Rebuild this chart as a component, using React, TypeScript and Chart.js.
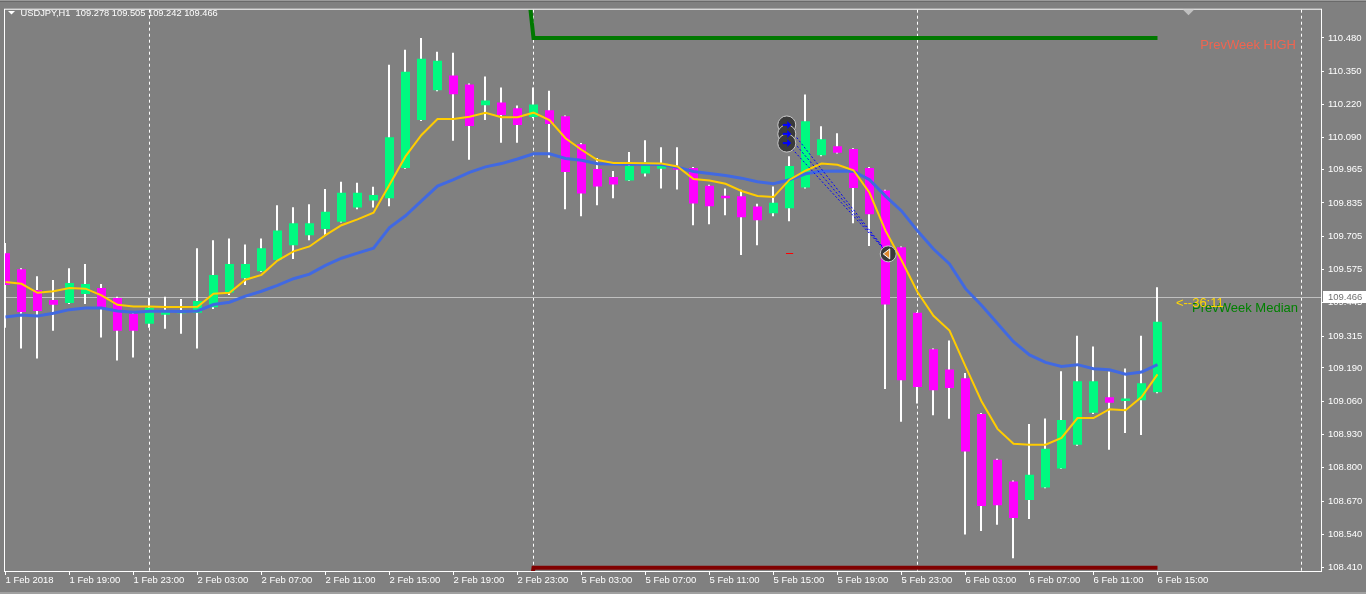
import React, { useEffect, useRef } from "react";
import { Chart, registerables } from "chart.js";

Chart.register(...registerables);

// ---------- DATA ----------
const titleText = "USDJPY,H1  109.278 109.505 109.242 109.466";

const openP = [
  109.638, 109.576, 109.495, 109.456, 109.444, 109.479, 109.503, 109.464, 109.402, 109.363,
  109.398, 109.404, 109.406, 109.427, 109.485, 109.541, 109.568, 109.612, 109.670, 109.709,
  109.733, 109.762, 109.817, 109.845, 109.853, 109.972, 110.159, 110.276, 110.333, 110.298,
  110.217, 110.228, 110.205, 110.171, 110.197, 110.174, 110.065, 109.968, 109.937, 109.923,
  109.950, 109.969, 109.975, 109.972, 109.902, 109.863, 109.861, 109.821, 109.795, 109.814,
  109.895, 110.022, 110.057, 110.046, 109.972, 109.884, 109.662, 109.406, 109.263, 109.184,
  109.150, 109.010, 108.831, 108.746, 108.674, 108.723, 108.797, 108.890, 109.015, 109.076,
  109.061, 109.064, 109.095,
];
const highP = [
  109.679, 109.580, 109.549, 109.534, 109.580, 109.596, 109.518, 109.468, 109.406, 109.464,
  109.468, 109.460, 109.658, 109.689, 109.696, 109.673, 109.696, 109.826, 109.818, 109.830,
  109.890, 109.918, 109.914, 109.898, 110.375, 110.434, 110.480, 110.426, 110.422, 110.302,
  110.329, 110.286, 110.216, 110.286, 110.274, 110.177, 110.069, 110.011, 109.960, 110.034,
  110.080, 110.053, 110.053, 109.976, 109.906, 109.892, 109.887, 109.832, 109.899, 110.018,
  110.259, 110.135, 110.108, 110.049, 109.976, 109.887, 109.665, 109.409, 109.266, 109.297,
  109.170, 109.014, 108.835, 108.750, 108.971, 108.993, 109.177, 109.316, 109.274, 109.176,
  109.188, 109.316, 109.506,
];
const lowP = [
  109.347, 109.266, 109.227, 109.336, 109.440, 109.440, 109.309, 109.219, 109.231, 109.347,
  109.343, 109.324, 109.266, 109.421, 109.475, 109.514, 109.565, 109.611, 109.616, 109.689,
  109.709, 109.759, 109.810, 109.817, 109.822, 109.969, 110.155, 110.272, 110.078, 110.004,
  110.159, 110.070, 110.070, 110.166, 110.012, 109.810, 109.783, 109.826, 109.853, 109.921,
  109.938, 109.892, 109.888, 109.748, 109.752, 109.787, 109.632, 109.670, 109.783, 109.764,
  109.892, 110.018, 110.028, 109.756, 109.667, 109.108, 108.980, 109.051, 109.005, 108.992,
  108.539, 108.553, 108.577, 108.446, 108.600, 108.720, 108.795, 108.886, 109.010, 108.870,
  108.936, 108.928, 109.091,
];
const closeP = [
  109.514, 109.409, 109.413, 109.437, 109.522, 109.518, 109.421, 109.336, 109.336, 109.425,
  109.409, 109.412, 109.452, 109.553, 109.596, 109.596, 109.658, 109.727, 109.756, 109.756,
  109.801, 109.875, 109.875, 109.866, 110.092, 110.348, 110.399, 110.391, 110.260, 110.136,
  110.236, 110.179, 110.140, 110.220, 110.144, 109.956, 109.872, 109.899, 109.907, 109.980,
  109.994, 109.980, 109.965, 109.833, 109.822, 109.853, 109.779, 109.767, 109.836, 109.980,
  110.154, 110.084, 110.031, 109.894, 109.791, 109.438, 109.142, 109.116, 109.103, 109.112,
  108.864, 108.650, 108.653, 108.604, 108.773, 108.874, 108.987, 109.138, 109.138, 109.054,
  109.071, 109.130, 109.371,
];
const maFast = [
  109.526, 109.519, 109.484, 109.490, 109.503, 109.500, 109.474, 109.437, 109.430, 109.430,
  109.428, 109.428, 109.429, 109.480, 109.484, 109.535, 109.554, 109.610, 109.646, 109.665,
  109.709, 109.748, 109.771, 109.797, 109.906, 110.017, 110.101, 110.163, 110.163, 110.172,
  110.188, 110.170, 110.170, 110.188, 110.159, 110.088, 110.043, 110.003, 109.991, 109.991,
  109.990, 109.989, 109.978, 109.929, 109.923, 109.910, 109.882, 109.862, 109.858, 109.926,
  109.961, 109.989, 109.984, 109.963, 109.875, 109.727, 109.611, 109.487, 109.394, 109.336,
  109.196, 109.060, 108.952, 108.894, 108.890, 108.890, 108.917, 108.994, 108.994, 109.029,
  109.025, 109.076, 109.165,
];
const maSlow = [
  109.389, 109.397, 109.393, 109.404, 109.418, 109.424, 109.424, 109.413, 109.408, 109.412,
  109.412, 109.411, 109.413, 109.438, 109.447, 109.471, 109.490, 109.513, 109.539, 109.557,
  109.591, 109.619, 109.639, 109.658, 109.739, 109.785, 109.843, 109.901, 109.926, 109.955,
  109.976, 109.989, 110.007, 110.027, 110.027, 110.009, 110.002, 109.988, 109.987, 109.986,
  109.986, 109.985, 109.975, 109.958, 109.950, 109.942, 109.932, 109.918, 109.910, 109.926,
  109.949, 109.959, 109.960, 109.959, 109.926, 109.862, 109.804, 109.726, 109.655, 109.597,
  109.500, 109.435, 109.364, 109.293, 109.241, 109.212, 109.196, 109.203, 109.187, 109.183,
  109.166, 109.174, 109.203,
];

const xTickIndex = [0, 4, 8, 12, 16, 20, 24, 28, 32, 36, 40, 44, 48, 52, 56, 60, 64, 68, 72];
const xTickLabels = [
  "1 Feb 2018", "1 Feb 19:00", "1 Feb 23:00", "2 Feb 03:00", "2 Feb 07:00", "2 Feb 11:00",
  "2 Feb 15:00", "2 Feb 19:00", "2 Feb 23:00", "5 Feb 03:00", "5 Feb 07:00", "5 Feb 11:00",
  "5 Feb 15:00", "5 Feb 19:00", "5 Feb 23:00", "6 Feb 03:00", "6 Feb 07:00", "6 Feb 11:00",
  "6 Feb 15:00",
];
const yTickLabels = [
  "110.480", "110.350", "110.220", "110.090", "109.965", "109.835", "109.705", "109.575",
  "109.445", "109.315", "109.190", "109.060", "108.930", "108.800", "108.670", "108.540", "108.410",
];
const daySeparatorIndex = [9, 33, 57, 81];

const prevWeekIndex = [32, 33, 72];
const prevWeekHigh = [111.06, 110.48, 110.48];
const prevWeekLow = [107.95, 108.409, 108.409];
const prevWeekMedian = 109.445;
const currentPrice = 109.466;
const currentPriceLabel = "109.466";
const timerLabel = "<--36:11";

const tradeEntryIndex = 48.83;
const tradeEntryPrices = [110.14, 110.105, 110.069];
const tradeExitIndex = 55.17;
const tradeExitPrice = 109.636;

// ---------- STYLE ----------
const FONT = "'Liberation Sans', Arial, sans-serif";
const BG = "#808080";
const BULL = "#00FA80";
const BEAR = "#FF00FF";

const X_MIN = -0.03125;
const X_MAX = X_MIN + 1316 / 16;
const Y_MIN = 108.3964;
const Y_MAX = 110.5905;

const overlay = {
  id: "mt4overlay",
  beforeDraw(chart: any) {
    const ctx = chart.ctx;
    ctx.save();
    ctx.fillStyle = BG;
    ctx.fillRect(0, 0, chart.width, chart.height);
    ctx.restore();
  },
  beforeDatasetsDraw(chart: any) {
    const { ctx, chartArea: a, scales } = chart;
    const xs = scales.x;
    const ys = scales.y;
    ctx.save();
    ctx.strokeStyle = "#FFFFFF";
    ctx.lineWidth = 1;
    ctx.setLineDash([3, 3]);
    for (const d of daySeparatorIndex) {
      const px = Math.floor(xs.getPixelForValue(d)) + 0.5;
      ctx.beginPath();
      ctx.moveTo(px, a.top);
      ctx.lineTo(px, a.bottom);
      ctx.stroke();
    }
    ctx.setLineDash([]);
    const py = Math.floor(ys.getPixelForValue(currentPrice)) + 0.5;
    ctx.strokeStyle = "#C0C0C0";
    ctx.beginPath();
    ctx.moveTo(a.left, py);
    ctx.lineTo(a.right, py);
    ctx.stroke();
    ctx.restore();
  },
  afterDatasetsDraw(chart: any) {
    const { ctx, chartArea: a, scales } = chart;
    const xs = scales.x;
    const ys = scales.y;
    ctx.save();
    ctx.beginPath();
    ctx.rect(a.left, a.top, a.right - a.left, a.bottom - a.top);
    ctx.clip();

    const ex = xs.getPixelForValue(tradeEntryIndex);
    const xx = xs.getPixelForValue(tradeExitIndex);
    const xy = ys.getPixelForValue(tradeExitPrice);
    ctx.strokeStyle = "#0000FF";
    ctx.lineWidth = 1;
    ctx.setLineDash([2, 2]);
    for (const p of tradeEntryPrices) {
      const ey = ys.getPixelForValue(p);
      ctx.beginPath();
      ctx.moveTo(ex, ey);
      ctx.lineTo(xx, xy);
      ctx.stroke();
    }
    ctx.setLineDash([]);
    ctx.strokeStyle = "#FF0000";
    ctx.beginPath();
    ctx.moveTo(xs.getPixelForValue(tradeEntryIndex - 0.05), Math.floor(xy) + 0.5);
    ctx.lineTo(xs.getPixelForValue(tradeEntryIndex + 0.4), Math.floor(xy) + 0.5);
    ctx.stroke();
    for (const p of tradeEntryPrices) {
      const ey = ys.getPixelForValue(p);
      ctx.beginPath();
      ctx.arc(ex, ey, 9, 0, Math.PI * 2);
      ctx.fillStyle = "#3A3A3A";
      ctx.fill();
      ctx.strokeStyle = "#C8C8C8";
      ctx.stroke();
    }
    for (const p of tradeEntryPrices) {
      const ey = ys.getPixelForValue(p);
      ctx.fillStyle = "#0000FF";
      ctx.fillRect(ex - 4, ey - 1, 5, 2);
      ctx.beginPath();
      ctx.moveTo(ex + 0.5, ey - 4);
      ctx.lineTo(ex + 4.5, ey);
      ctx.lineTo(ex + 0.5, ey + 4);
      ctx.closePath();
      ctx.fill();
    }
    ctx.beginPath();
    ctx.arc(xx, xy, 8, 0, Math.PI * 2);
    ctx.fillStyle = "#3A3A3A";
    ctx.fill();
    ctx.strokeStyle = "#C8C8C8";
    ctx.stroke();
    ctx.beginPath();
    ctx.moveTo(xx - 5, xy);
    ctx.lineTo(xx + 1.5, xy - 5);
    ctx.lineTo(xx + 1.5, xy + 5);
    ctx.closePath();
    ctx.fillStyle = "#E08A2E";
    ctx.fill();
    ctx.strokeStyle = "#FFFFFF";
    ctx.stroke();

    ctx.textBaseline = "top";
    ctx.textAlign = "right";
    ctx.font = `13px ${FONT}`;
    ctx.fillStyle = "#F06450";
    ctx.fillText("PrevWeek HIGH", 1296, ys.getPixelForValue(prevWeekHigh[1]) + 0.5);
    ctx.fillStyle = "#008000";
    ctx.fillText("PrevWeek Median", 1298, ys.getPixelForValue(prevWeekMedian) - 0.5);
    ctx.textAlign = "left";
    ctx.textBaseline = "middle";
    ctx.font = `13px ${FONT}`;
    ctx.fillStyle = "#FFD700";
    ctx.fillText(timerLabel, xs.getPixelForValue(73.15), ys.getPixelForValue(currentPrice) + 6.5);
    ctx.restore();
  },
  afterDraw(chart: any) {
    const { ctx, chartArea: a, scales } = chart;
    const ys = scales.y;
    ctx.save();
    ctx.strokeStyle = "#FFFFFF";
    ctx.lineWidth = 1;
    ctx.strokeRect(a.left - 0.5, a.top - 0.5, a.right - a.left + 1, a.bottom - a.top + 1);
    ctx.fillStyle = "#9A9A9A";
    ctx.fillRect(0, 0, chart.width, 1);
    ctx.fillStyle = "#6A6A6A";
    ctx.fillRect(0, 1, chart.width, 1);
    ctx.fillStyle = "#A0A0A0";
    ctx.fillRect(0, chart.height - 2, chart.width, 2);
    const py = Math.floor(ys.getPixelForValue(currentPrice)) + 0.5;
    ctx.fillStyle = "#FFFFFF";
    ctx.fillRect(a.right + 2, py - 6.5, chart.width - a.right - 2, 12);
    ctx.fillStyle = "#707070";
    ctx.font = `9.5px ${FONT}`;
    ctx.textBaseline = "middle";
    ctx.textAlign = "left";
    ctx.fillText(currentPriceLabel, a.right + 7, py);
    ctx.fillStyle = "#C0C0C0";
    ctx.beginPath();
    ctx.moveTo(1183, a.top);
    ctx.lineTo(1194, a.top);
    ctx.lineTo(1188.5, a.top + 5.5);
    ctx.closePath();
    ctx.fill();
    ctx.fillStyle = "#FFFFFF";
    ctx.beginPath();
    ctx.moveTo(8, 11);
    ctx.lineTo(15, 11);
    ctx.lineTo(11.5, 14.5);
    ctx.closePath();
    ctx.fill();
    ctx.font = `9.3px ${FONT}`;
    ctx.fillText(titleText, 20.5, 13);
    ctx.restore();
  },
};

export default function App() {
  const canvasRef = useRef<HTMLCanvasElement | null>(null);

  useEffect(() => {
    if (!canvasRef.current) return;
    const bull: any[] = [];
    const bear: any[] = [];
    const wicks: any[] = [];
    openP.forEach((o, i) => {
      const c = closeP[i];
      wicks.push({ x: i, y: [lowP[i], highP[i]] });
      if (c >= o) bull.push({ x: i, y: [o, c] });
      else bear.push({ x: i, y: [c, o] });
    });
    const fast = maFast.map((y, i) => ({ x: i, y }));
    const slow = maSlow.map((y, i) => ({ x: i, y }));
    const pwHigh = prevWeekIndex.map((x, i) => ({ x, y: prevWeekHigh[i] }));
    const pwLow = prevWeekIndex.map((x, i) => ({ x, y: prevWeekLow[i] }));

    const tickFont = { family: FONT, size: 9.5 };

    const chart = new Chart(canvasRef.current, {
      type: "bar",
      data: {
        datasets: [
          { type: "line", label: "MA fast", data: fast, borderColor: "#FFCC00", borderWidth: 2, pointRadius: 0, tension: 0, order: 0, clip: 0 } as any,
          { type: "line", label: "MA slow", data: slow, borderColor: "#4169E1", borderWidth: 3, pointRadius: 0, tension: 0, order: 1, clip: 0 } as any,
          { type: "line", label: "PrevWeek HIGH", data: pwHigh, borderColor: "#007800", borderWidth: 4, pointRadius: 0, tension: 0, order: 2, clip: 0 } as any,
          { type: "line", label: "PrevWeek LOW", data: pwLow, borderColor: "#800000", borderWidth: 4, pointRadius: 0, tension: 0, order: 2, clip: 0 } as any,
          { type: "bar", label: "Bull", data: bull, backgroundColor: BULL, barThickness: 9, grouped: false, order: 3, inflateAmount: 0, minBarLength: 1 } as any,
          { type: "bar", label: "Bear", data: bear, backgroundColor: BEAR, barThickness: 9, grouped: false, order: 3, inflateAmount: 0, minBarLength: 1 } as any,
          { type: "bar", label: "Wick", xAxisID: "xw", data: wicks, backgroundColor: "#FFFFFF", barThickness: 2, grouped: false, order: 4, inflateAmount: 0 } as any,
        ],
      },
      options: {
        animation: false,
        responsive: false,
        events: [],
        layout: { padding: { left: 5, top: 5, right: 0, bottom: 0 } },
        plugins: { legend: { display: false }, tooltip: { enabled: false } },
        scales: {
          x: {
            type: "linear",
            position: "bottom",
            offset: false,
            min: X_MIN,
            max: X_MAX,
            afterFit: (s: any) => { s.height = 23; },
            afterBuildTicks: (s: any) => { s.ticks = xTickIndex.map((v) => ({ value: v })); },
            ticks: {
              callback: (_v: any, i: number) => xTickLabels[i],
              autoSkip: false,
              maxRotation: 0,
              minRotation: 0,
              align: "start",
              color: "#FFFFFF",
              font: tickFont,
              padding: 0,
            },
            grid: { offset: false, drawOnChartArea: false, drawTicks: true, tickLength: 4, color: "#FFFFFF" },
            border: { display: false },
          },
          xw: {
            type: "linear",
            position: "bottom",
            display: false,
            offset: false,
            min: X_MIN + 0.5 / 16,
            max: X_MAX + 0.5 / 16,
            grid: { offset: false },
          },
          y: {
            type: "linear",
            position: "right",
            min: Y_MIN,
            max: Y_MAX,
            afterFit: (s: any) => { s.width = 45; },
            afterBuildTicks: (s: any) => { s.ticks = yTickLabels.map((l) => ({ value: parseFloat(l) })); },
            ticks: {
              callback: (_v: any, i: number) => yTickLabels[i],
              autoSkip: false,
              color: "#FFFFFF",
              font: tickFont,
              padding: 4,
            },
            grid: { drawOnChartArea: false, drawTicks: true, tickLength: 3, color: "#FFFFFF" },
            border: { display: false },
          },
        },
      } as any,
      plugins: [overlay as any],
    });
    return () => chart.destroy();
  }, []);

  return (
    <div style={{ position: "fixed", left: 0, top: 0, width: 1366, height: 594, background: BG }}>
      <canvas ref={canvasRef} width={1366} height={594} style={{ display: "block", width: 1366, height: 594 }} />
    </div>
  );
}
